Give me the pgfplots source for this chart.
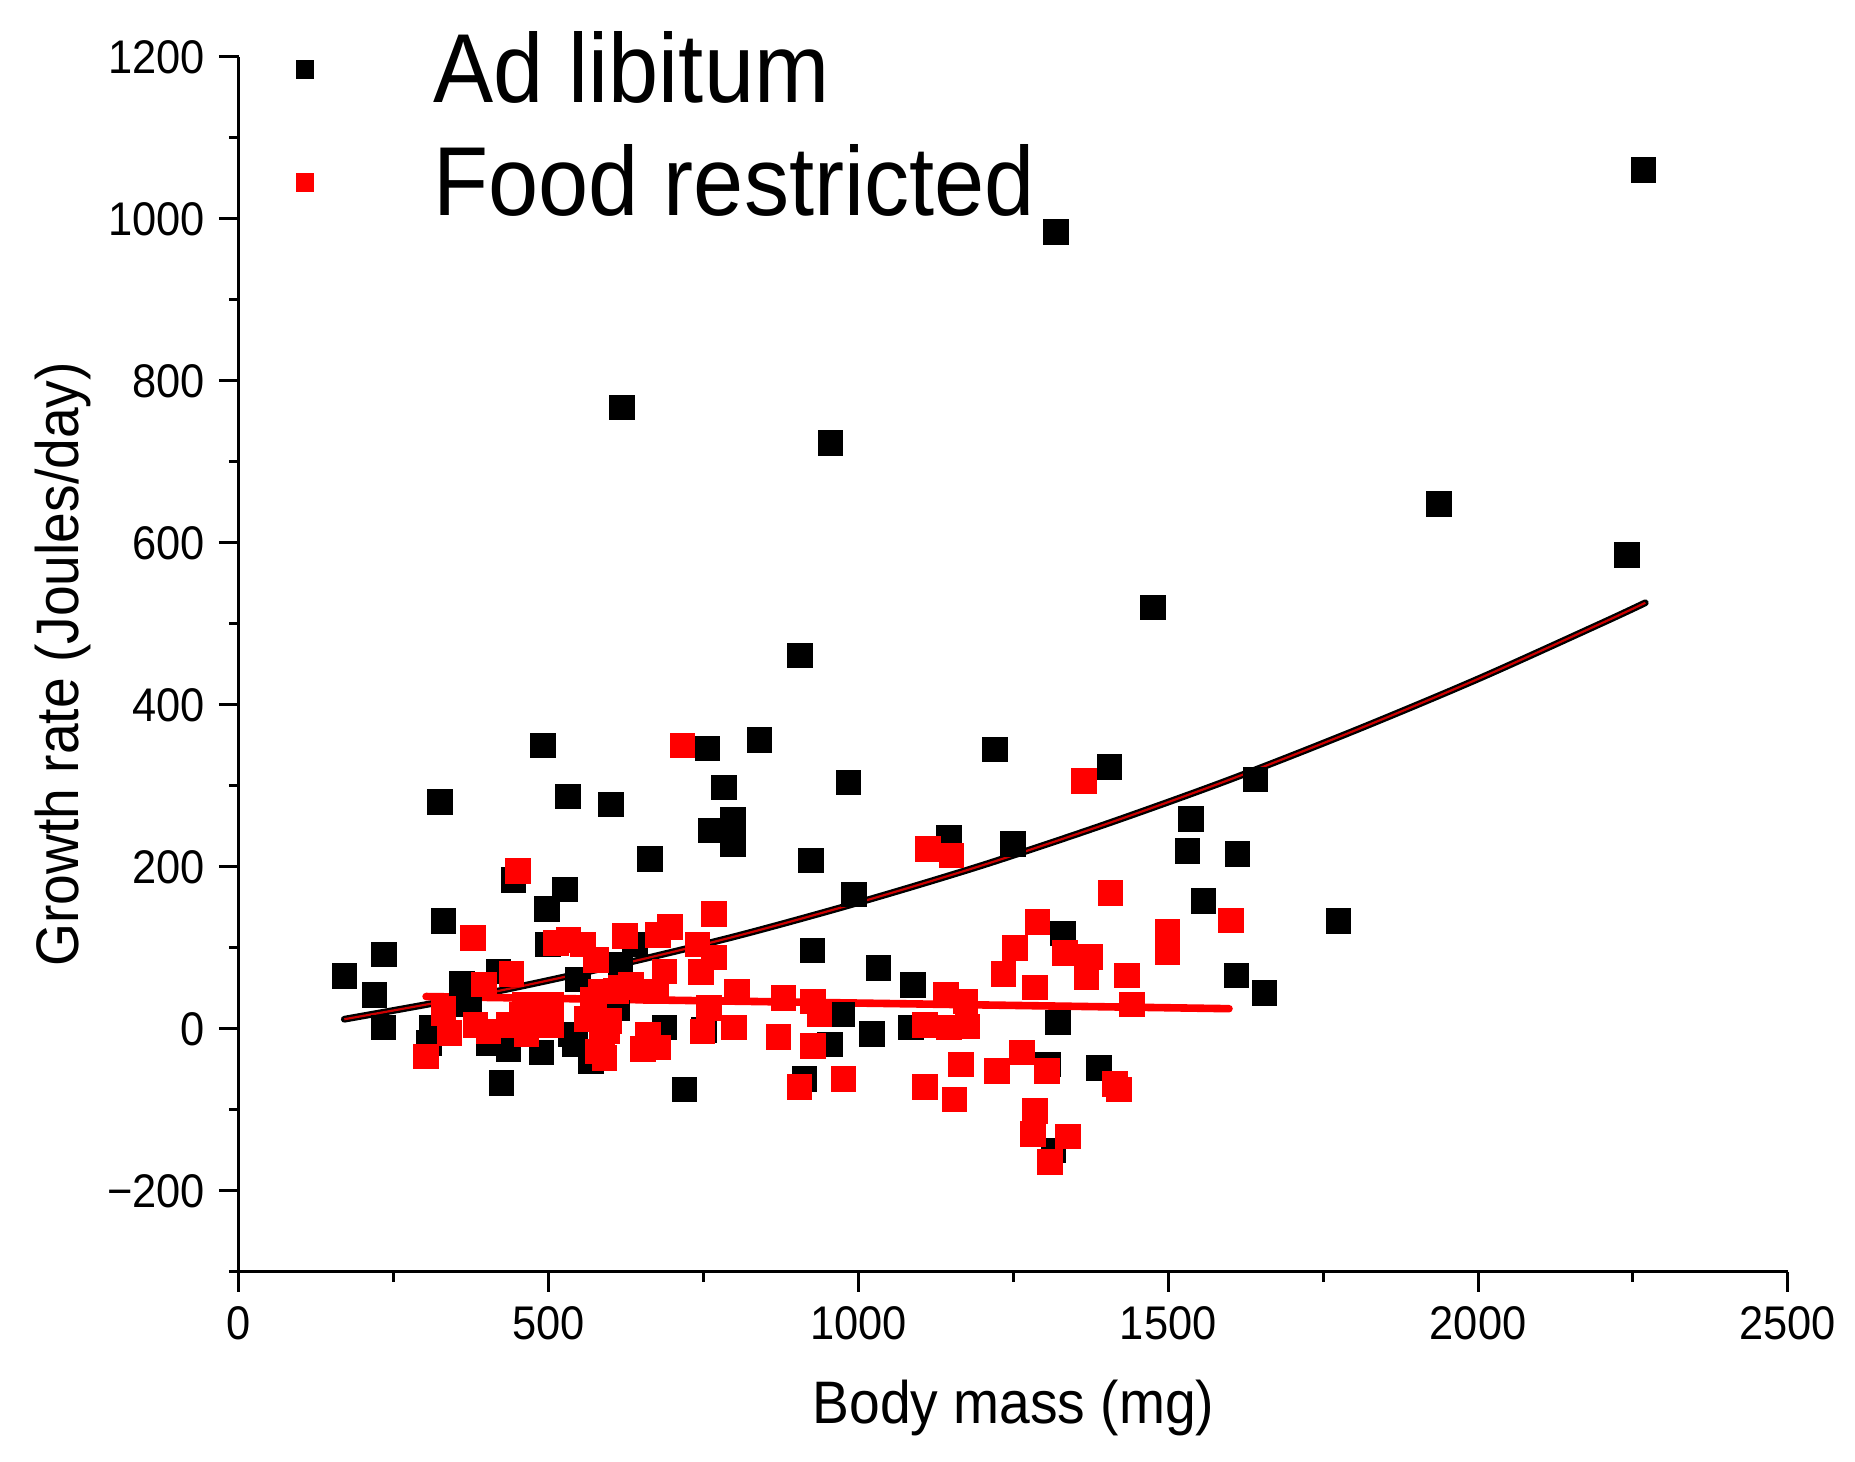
\documentclass[border=0pt]{standalone}
\usepackage{fontspec}
\setmainfont{Liberation Sans}[FakeStretch=0.92]
\usepackage{pgfplots}
\pgfplotsset{compat=1.18}

\pgfplotstableread{
x y
170 65
219 42
234 92
233 2
324 280
330 133
311 2
307 -17
360 56
371 30
403 -17
419 71
424 -67
435 -25
443 184
488 -29
491 350
497 148
499 104
526 172
531 287
536 -7
542 -19
547 61
568 -40
600 277
611 26
616 79
618 767
639 104
663 210
687 2
719 -75
751 -1
756 346
761 245
783 298
797 258
797 228
840 357
906 461
913 -62
923 208
926 97
954 -19
955 723
974 18
984 304
993 166
1022 -6
1032 75
1085 2
1088 54
1146 236
1220 345
1249 228
1306 -44
1315 -150
1319 984
1322 8
1330 118
1388 -48
1405 323
1475 520
1531 220
1537 259
1557 158
1610 66
1612 216
1641 308
1655 44
1775 133
1937 648
2240 585
2267 1060
}\adlib

\pgfplotstableread{
x y
302 -34
330 20
340 -5
378 112
382 5
395 55
403 -3
435 5
440 68
450 195
456 18
462 30
464 -7
494 22
504 30
504 5
512 106
532 110
555 104
576 85
561 12
571 36
574 18
579 -28
584 46
586 -15
590 -36
595 -3
598 10
609 47
616 51
623 115
633 55
652 -25
660 -7
676 -23
673 46
676 116
687 71
696 126
716 350
740 104
746 70
748 -3
759 26
767 142
767 88
799 2
804 46
871 -10
879 38
905 -72
927 34
927 -21
937 18
976 -62
1107 5
1107 -72
1112 222
1150 214
1141 42
1146 2
1155 -87
1165 -44
1173 34
1176 3
1224 -52
1234 68
1253 100
1264 -29
1282 -130
1285 -101
1285 51
1289 132
1304 -52
1309 -164
1333 94
1338 -133
1364 306
1368 64
1374 89
1407 168
1414 -68
1420 -75
1433 66
1441 30
1499 120
1499 95
1601 134
}\restricted

\begin{document}
\begin{tikzpicture}
\begin{axis}[
    name=ax,
    scale only axis,
    width=387.2pt, height=303.8pt,
    xmin=0, xmax=2500, ymin=-300, ymax=1200,
    axis lines=left,
    axis line style={-, line width=0.75pt},
    tick align=outside,
    major tick length=5pt, minor tick length=2.5pt,
    every tick/.style={black, line width=0.75pt},
    xtick={0,500,...,2500},
    xticklabels={0,500,1000,1500,2000,2500},
    minor xtick={250,750,...,2250},
    ytick={-200,0,...,1200},
    yticklabels={−200,0,200,400,600,800,1000,1200},
    minor ytick={-300,-100,100,300,500,700,900,1100},
    ticklabel style={font=\fontsize{11.8}{14}\selectfont},
    label style={font=\fontsize{15}{18}\selectfont},
    xlabel={Body mass (mg)},
    ylabel={Growth rate (Joules/day)},
    xlabel style={at={(axis description cs:0.5,-0.1122)}, anchor=center},
    ylabel style={at={(axis description cs:-0.1136,0.5)}, anchor=center},
    legend style={draw=none, fill=none, at={(axis description cs:0.029,1.035)},
        anchor=north west, font=\fontsize{24.5}{29}\selectfont,
        row sep=5pt, /tikz/every odd column/.append style={column sep=28pt}},
    legend cell align=left,
    legend image post style={mark size=2.1pt},
]
\addplot[only marks, mark=square*, mark size=3pt, black] table {\adlib};
\addplot[only marks, mark=square*, mark size=3pt, red] table {\restricted};

% fitted curves
\addplot[black, line width=1.7pt, smooth, line cap=round, forget plot] coordinates {
    (170,12) (400,44) (600,77) (800,114) (1000,156) (1200,202) (1400,253)
    (1600,308) (1800,368) (2000,432) (2200,501) (2270,526)
};
\addplot[red!80!black, line width=0.55pt, smooth, forget plot] coordinates {
    (170,12) (400,44) (600,77) (800,114) (1000,156) (1200,202) (1400,253)
    (1600,308) (1800,368) (2000,432) (2200,501) (2270,526)
};
\addplot[red, line width=1.9pt, line cap=round, forget plot] coordinates {(302,40) (1598,25)};

\legend{Ad libitum, Food restricted}
\end{axis}
\pgfresetboundingbox
\path[use as bounding box] (ax.south west) ++(-59.75pt,-47.5pt) rectangle ++(463.75pt,365.5pt);
\end{tikzpicture}
\end{document}
